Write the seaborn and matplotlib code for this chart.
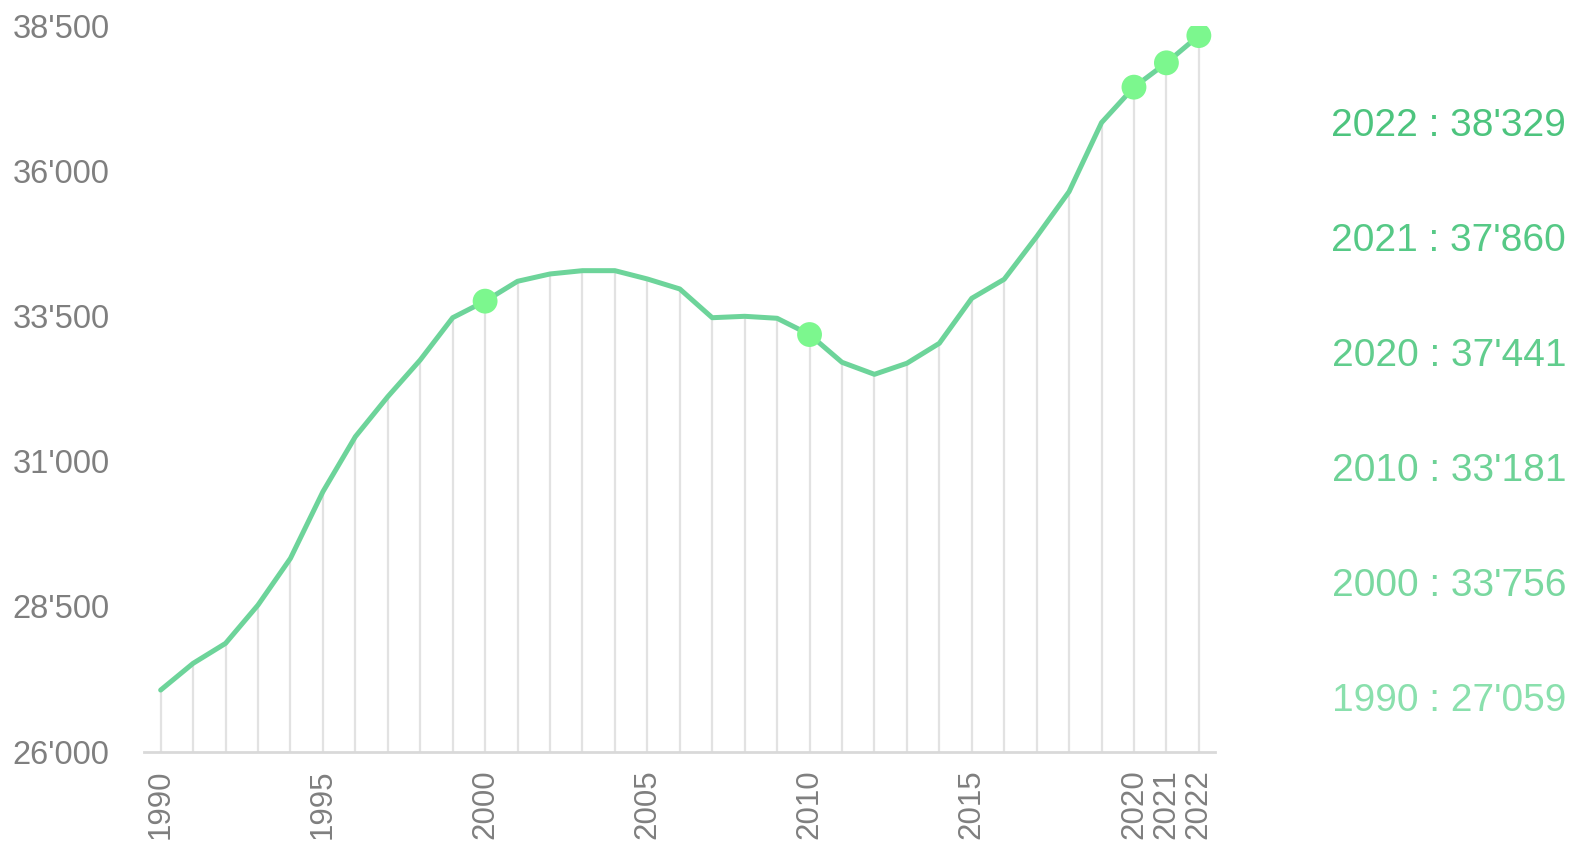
import matplotlib
matplotlib.use("Agg")
import matplotlib.pyplot as plt
import matplotlib.ticker as mticker
import numpy as np
import pandas as pd
import seaborn as sns

# values
years = list(range(1990, 2023))
population = [27059, 27519, 27863, 28523, 29327, 30474, 31422, 32111, 32743, 33471,
              33756, 34098, 34224, 34281, 34281, 34138, 33966, 33471, 33495, 33461,
              33181, 32703, 32496, 32686, 33030, 33805, 34133, 34867, 35642, 36830,
              37441, 37860, 38329]
highlight_years = [2000, 2010, 2020, 2021, 2022]
xtick_years = [1990, 1995, 2000, 2005, 2010, 2015, 2020, 2021, 2022]
ytick_values = [26000, 28500, 31000, 33500, 36000, 38500]

label_years = [2022, 2021, 2020, 2010, 2000, 1990]
label_colors = ["#4dc47e", "#56c986", "#61cd8d", "#6dd296", "#7ad8a0", "#8ae0ad"]

line_color = "#6dd49a"
marker_color = "#7cf78e"
grid_color = "#e2e2e2"
tick_color = "#7f7f7f"

df = pd.DataFrame({"year": years, "population": population})
hl = df[df["year"].isin(highlight_years)]

sns.set_style("white")
plt.rcParams["font.family"] = ["Liberation Sans Narrow", "Liberation Sans", "DejaVu Sans"]

fig = plt.figure(figsize=(15.77, 8.47), dpi=100)
ax = fig.add_axes([0.0916, 0.1127, 0.6789, 0.857])

# thin vertical drop lines from the baseline to the curve
ax.vlines(df["year"], ytick_values[0], df["population"], color=grid_color, lw=1.6, zorder=1)

sns.lineplot(data=df, x="year", y="population", ax=ax, color=line_color, lw=3.6,
             zorder=2, legend=False)
sns.scatterplot(data=hl, x="year", y="population", ax=ax, color=marker_color, s=320,
                edgecolor="none", zorder=3, legend=False)

ax.set_xlim(1989.5, 2022.5)
ax.set_ylim(26000, 38500)
ax.set_xticks(xtick_years)
ax.set_xticklabels([str(y) for y in xtick_years], rotation=90, fontsize=22.5,
                   color=tick_color, va="top")
ax.set_yticks(ytick_values)
ax.yaxis.set_major_formatter(mticker.FuncFormatter(lambda v, p: f"{int(v):,}".replace(",", "'")))
for lab in ax.get_yticklabels():
    lab.set_fontsize(23.5)
    lab.set_color(tick_color)
ax.tick_params(axis="x", length=0, pad=13)
ax.tick_params(axis="y", length=0, pad=25)
ax.set_xlabel("")
ax.set_ylabel("")

for side in ["top", "right", "left"]:
    ax.spines[side].set_visible(False)
ax.spines["bottom"].set_color("#d9d9d9")
ax.spines["bottom"].set_linewidth(2)

# value labels on the right
lookup = dict(zip(years, population))
for i, (yr, col) in enumerate(zip(label_years, label_colors)):
    val = f"{lookup[yr]:,}".replace(",", "'")
    fig.text(1566 / 1577, 1 - (125.7 + i * 115) / 847, f"{yr} : {val}",
             ha="right", va="center", fontsize=28, color=col,
             family=["Liberation Sans", "DejaVu Sans"])

fig.savefig("out.png", dpi=100)
